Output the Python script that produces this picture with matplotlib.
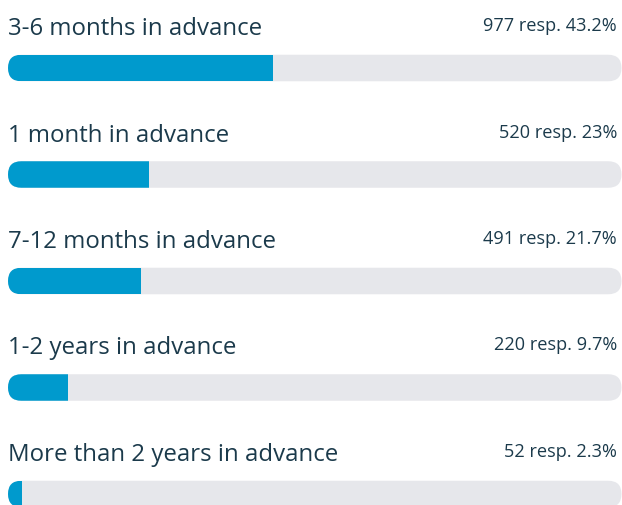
import matplotlib
matplotlib.use("Agg")
import matplotlib.pyplot as plt
from matplotlib.patches import FancyBboxPatch

categories = ["3-6 months in advance", "1 month in advance", "7-12 months in advance",
              "1-2 years in advance", "More than 2 years in advance"]
responses = [977, 520, 491, 220, 52]
percents = [43.2, 23, 21.7, 9.7, 2.3]
pct_labels = ["43.2%", "23%", "21.7%", "9.7%", "2.3%"]

W, H = 622, 506
fig = plt.figure(figsize=(W / 100, H / 100), dpi=100)
fig.patch.set_facecolor("white")

left_px, right_px = 8, 621.5
first_center, spacing = 69, 106.5
bar_px = 26.5

ax = fig.add_axes([left_px / W, 0, (right_px - left_px) / W, 1])
ax.set_xlim(0, 100)
ax.set_ylim((H - first_center) / spacing, -first_center / spacing)
ax.axis("off")

ux = 100 / (right_px - left_px)   # data x per pixel
uy = 1 / spacing                   # data y per pixel
bh = bar_px * uy
r = bar_px / 2 * ux

text_color = "#1b3a4b"
blue = "#009acd"
track_c = "#e6e7eb"

for i, (cat, n, p, pl) in enumerate(zip(categories, responses, percents, pct_labels)):
    track = FancyBboxPatch((0, i - bh / 2), 100, bh,
                           boxstyle=f"round,pad=0,rounding_size={r}",
                           mutation_aspect=uy / ux,
                           facecolor=track_c, edgecolor="none", zorder=1)
    ax.add_patch(track)
    bars = ax.barh([i], [p], height=bh, left=0, color=blue, zorder=2)
    for b in bars:
        b.set_clip_path(track)
    ax.annotate(cat, xy=(0, i), xytext=(0, 34), textcoords="offset pixels",
                ha="left", va="baseline", fontsize=17.3, color=text_color,
                family="Open Sans")
    ax.annotate(f"{n} resp. {pl}", xy=(100, i), xytext=(-4.5, 38),
                textcoords="offset pixels", ha="right", va="baseline",
                fontsize=13.1, color=text_color, family="Open Sans")

fig.savefig("out.png", dpi=100)
